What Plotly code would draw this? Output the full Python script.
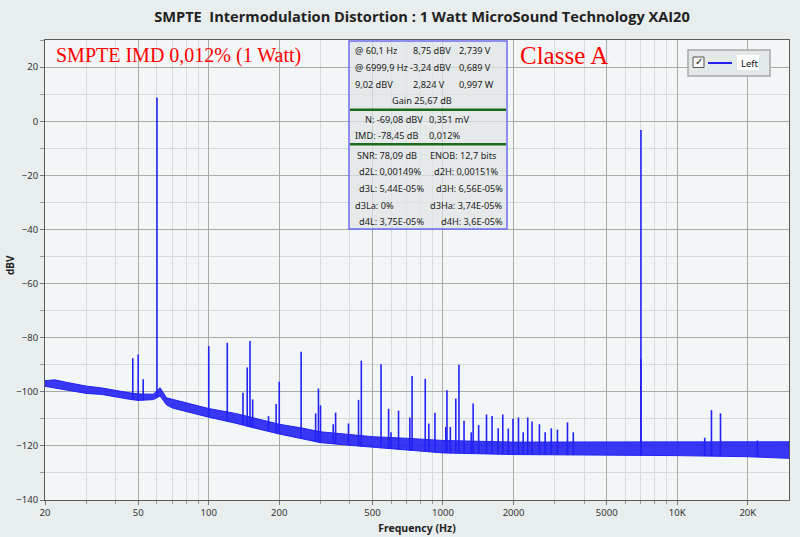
import plotly.graph_objects as go
import numpy as np

# noise floor envelope (Hz, dBV)
floor_f = [20, 22, 25, 30, 35, 40, 46, 50, 58, 62, 66, 70, 85, 100, 130, 150, 200,
           250, 300, 400, 500, 700, 1000, 2000, 5000, 10000, 20000, 30000]
floor_hi = [-95.9, -95.6, -96.6, -97.9, -98.6, -99.6, -100.4, -100.8, -100.9, -98.5,
            -102.2, -102.8, -104.6, -106.2, -108.0, -109.4, -112.0, -113.4, -114.8,
            -115.8, -116.6, -117.2, -118.0, -118.6, -118.6, -118.6, -118.5, -118.5]
floor_lo = [-98.0, -98.6, -99.4, -100.6, -101.0, -101.9, -102.8, -103.2, -102.9,
            -101.6, -104.8, -106.0, -107.8, -109.4, -111.6, -113.0, -115.6, -117.4,
            -118.8, -119.8, -120.6, -121.6, -122.6, -123.2, -123.5, -123.6, -124.0,
            -124.6]

# spectral lines (Hz, peak dBV)
spike_f = [47.4, 50, 52.5, 60.1, 100, 120, 140, 146, 150, 154, 180, 194, 200,
           248, 286, 294, 300, 340, 348, 395, 436, 448, 544, 586, 600, 646,
           722, 738, 840, 870, 924, 1028, 1040, 1075, 1134, 1170, 1230, 1320,
           1345, 1420, 1534, 1620, 1720, 1800, 1900, 1990, 2100, 2200, 2300,
           2400, 2580, 2730, 2900, 3080, 3400, 3600, 6990, 6999.9, 13100,
           14000, 15300, 22000]
spike_db = [-87.6, -86.2, -95.4, 8.75, -83.1, -81.9, -100.4, -91.0, -81.2, -102.8,
            -109.0, -104.5, -96.3, -85.2, -108.0, -98.8, -105.0, -112.0, -107.7,
            -111.7, -103.0, -88.5, -89.8, -106.3, -115.0, -107.0, -109.5, -94.2,
            -95.2, -111.7, -107.8, -113.0, -99.4, -113.0, -102.5, -90.0, -110.7,
            -115.0, -104.3, -112.3, -108.4, -109.0, -113.5, -108.4, -113.6, -110.0,
            -109.5, -115.0, -109.5, -111.0, -112.0, -115.0, -113.5, -114.0, -111.3,
            -115.0, -88.0, -3.24, -117.0, -106.8, -108.0, -118.0]

x_ticks = [20, 50, 100, 200, 500, 1000, 2000, 5000, 10000, 20000]
x_ticktext = ['20', '50', '100', '200', '500', '1000', '2000', '5000', '10K', '20K']
x_minor = [30, 40, 60, 70, 80, 90, 300, 400, 600, 700, 800, 900,
           3000, 4000, 6000, 7000, 8000, 9000]

info_rows = [
    ['@ 60,1 Hz', '8,75 dBV', '2,739 V'],
    ['@ 6999,9 Hz', '-3,24 dBV', '0,689 V'],
    ['9,02 dBV', '2,824 V', '0,997 W'],
]

BLUE = '#2222f4'
W, H = 800, 537
PL, PR, PT, PB = 45, 789, 40, 500


def px(p):
    return (p - PL) / (PR - PL)


def py(p):
    return (PB - p) / (PB - PT)


fig = go.Figure()

# noise floor as a band
fig.add_trace(go.Scatter(
    x=floor_f + floor_f[::-1], y=floor_hi + floor_lo[::-1],
    fill='toself', fillcolor='rgba(34,34,244,0.9)', mode='lines',
    line=dict(color=BLUE, width=1), hoverinfo='skip', showlegend=False))

# spectral lines
base = np.interp(np.log10(spike_f), np.log10(floor_f), floor_lo)
sx, sy = [], []
for f, b, d in zip(spike_f, base, spike_db):
    sx += [f, f, None]
    sy += [b, d, None]
fig.add_trace(go.Scatter(x=sx, y=sy, mode='lines', name='Left',
                         line=dict(color=BLUE, width=1.6), showlegend=False))

shapes = []
ann = []

# info box
shapes.append(dict(type='rect', xref='paper', yref='paper',
                   x0=px(349), x1=px(507), y0=py(229), y1=py(41),
                   fillcolor='rgba(222,228,228,0.7)',
                   line=dict(color='#6e6ef0', width=1.5)))
for yy in (109.7, 144.3):
    shapes.append(dict(type='line', xref='paper', yref='paper',
                       x0=px(350), x1=px(506), y0=py(yy), y1=py(yy),
                       line=dict(color='#1c6a1c', width=2.5)))

info_font = dict(family='Noto Sans', size=9.2, color='#222')


def txt(x, y, s, anchor='left', font=info_font, angle=0):
    ann.append(dict(xref='paper', yref='paper', x=px(x), y=py(y), text=s,
                    showarrow=False, xanchor=anchor, yanchor='middle', font=font,
                    textangle=angle))


for i, row in enumerate(info_rows):
    yy = 50.7 + i * 16.8
    txt(352.5, yy, row[0])
    txt(408 if i == 1 else 410.7, yy, row[1])
    txt(456.7, yy, row[2])
txt(421.7, 100.7, 'Gain 25,67 dB', 'center')
txt(363.3, 119.3, 'N: -69,08 dBV')
txt(427, 119.3, '0,351 mV')
txt(352.7, 135.7, 'IMD: -78,45 dB')
txt(427, 135.7, '0,012%')
txt(355, 155, 'SNR: 78,09 dB')
txt(428.3, 155, 'ENOB: 12,7 bits')
left_col = ['d2L: 0,00149%', 'd3L: 5,44E-05%', 'd3La: 0%', 'd4L: 3,75E-05%']
right_col = ['d2H: 0,00151%', 'd3H: 6,56E-05%', 'd3Ha: 3,74E-05%', 'd4H: 3,6E-05%']
for i, (l, r) in enumerate(zip(left_col, right_col)):
    yy = 171.7 + i * 16.7
    txt(352.7 if i == 2 else 356.7, yy, l)
    txt(501 if i == 0 else 505, yy, r, 'right')

# red notes
txt(54, 55, 'SMPTE IMD 0,012% (1 Watt)',
    font=dict(family='Liberation Serif', size=20, color='#ff0000'))
txt(518, 55, 'Classe A',
    font=dict(family='Liberation Serif', size=25, color='#ff0000'))

# legend box drawn by hand (checkbox + line + label)
shapes.append(dict(type='rect', xref='paper', yref='paper',
                   x0=px(688), x1=px(770), y0=py(76), y1=py(50),
                   fillcolor='#e3e8e8', line=dict(color='#a4a8a8', width=1.5)))
shapes.append(dict(type='rect', xref='paper', yref='paper',
                   x0=px(693), x1=px(704), y0=py(67.5), y1=py(57),
                   fillcolor='#f6f6f6', line=dict(color='#555', width=1)))
shapes.append(dict(type='line', xref='paper', yref='paper',
                   x0=px(708), x1=px(732), y0=py(63), y1=py(63),
                   line=dict(color=BLUE, width=2)))
shapes.append(dict(type='rect', xref='paper', yref='paper',
                   x0=px(737), x1=px(759), y0=py(70), y1=py(55),
                   fillcolor='white', line=dict(width=0)))
txt(698.5, 62, '✓', 'center', dict(family='DejaVu Sans', size=10, color='#111'))
txt(739, 63, 'Left', font=dict(family='Noto Sans', size=9.5, color='#111'))

# y axis title
txt(10, 265, 'dBV', 'center',
    dict(family='Noto Sans', size=10, color='#222', weight='bold'), angle=-90)

tick_font = dict(family='Noto Sans', size=9.5, color='#333')

fig.update_layout(
    width=W, height=H,
    margin=dict(l=PL, r=W - PR, t=PT, b=H - PB),
    paper_bgcolor='#e8eded', plot_bgcolor='#f3f6f6',
    title=dict(text='SMPTE\u00a0 Intermodulation Distortion : 1 Watt MicroSound Technology XAI20',
               x=422 / W, xanchor='center', y=1 - 17 / H, yanchor='middle',
               font=dict(family='Open Sans', size=14.6, color='#222', weight='bold')),
    shapes=shapes, annotations=ann,
    xaxis=dict(type='log', range=[np.log10(20), np.log10(30000)], automargin=False,
               tickvals=x_ticks, ticktext=x_ticktext, tickfont=tick_font,
               gridcolor='#a9abab', gridwidth=1,
               showline=True, linecolor='#5a5a5a', mirror=True,
               ticks='outside', ticklen=4, tickcolor='#777',
               minor=dict(tickvals=x_minor, showgrid=True, gridcolor='#d6dada',
                          ticks='outside', ticklen=3, tickcolor='#999'),
               title=dict(text='Frequency (Hz)', standoff=6,
                          font=dict(family='Noto Sans', size=10.5, color='#222',
                                    weight='bold')),
               zeroline=False),
    yaxis=dict(range=[-140, 30], tickvals=list(range(-140, 21, 20)), automargin=False,
               tickfont=tick_font, gridcolor='#a9abab', gridwidth=1,
               showline=True, linecolor='#5a5a5a', mirror=True,
               ticks='outside', ticklen=4, tickcolor='#777',
               minor=dict(dtick=10, showgrid=True, gridcolor='#d6dada',
                          ticks='outside', ticklen=4, tickcolor='#999'),
               zeroline=False),
)

# the page body has a default 8px margin; drop it so the figure sits at 0,0
fig.write_html('out.html', config={'displayModeBar': False},
               post_script="document.body.style.margin='0px';")
